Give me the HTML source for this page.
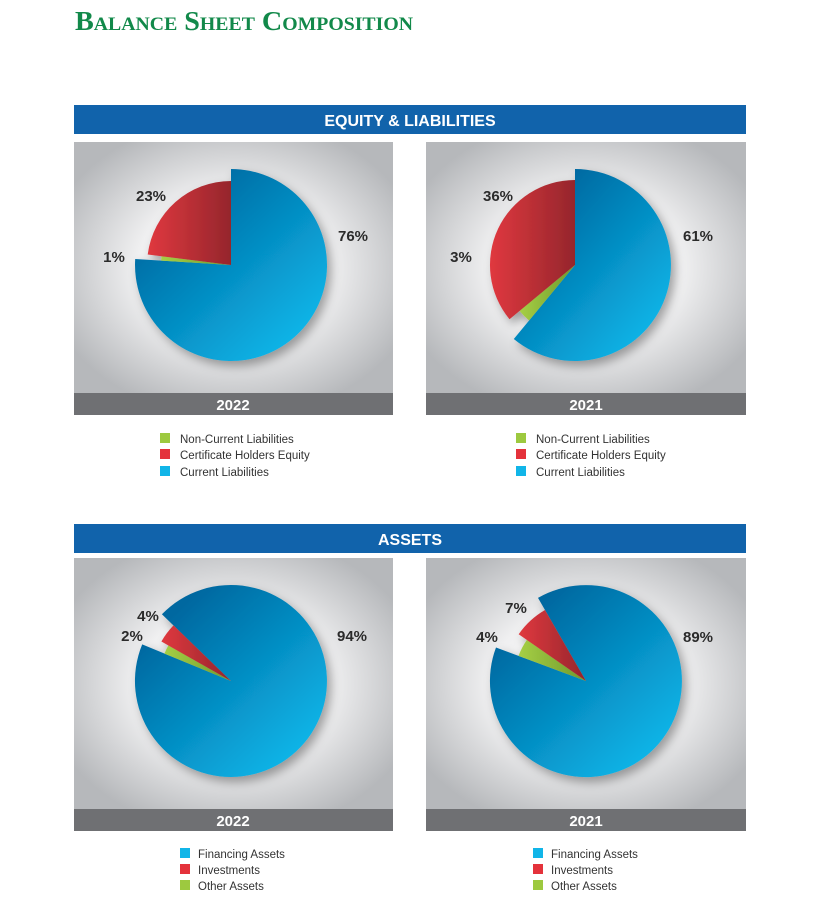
<!DOCTYPE html>
<html><head><meta charset="utf-8"><style>
html,body{margin:0;padding:0;background:#fff;}
svg{display:block;}
</style></head><body>
<svg width="821" height="909" viewBox="0 0 821 909" xmlns="http://www.w3.org/2000/svg" font-family="Liberation Sans, sans-serif">
<defs>
<radialGradient id="bg" cx="0.5" cy="0.5" r="0.6">
<stop offset="0" stop-color="#ffffff"/><stop offset="0.5" stop-color="#f0f0f1"/><stop offset="1" stop-color="#b6b8bb"/>
</radialGradient>
<linearGradient id="bl" x1="0.2" y1="0.15" x2="0.85" y2="0.85">
<stop offset="0" stop-color="#0068a0"/><stop offset="1" stop-color="#0bb3e6"/>
</linearGradient>
<linearGradient id="rd" x1="0" y1="0" x2="1" y2="0">
<stop offset="0" stop-color="#e0383f"/><stop offset="1" stop-color="#95262c"/>
</linearGradient>
<linearGradient id="gr" x1="0" y1="0" x2="1" y2="0">
<stop offset="0" stop-color="#a6cf45"/><stop offset="1" stop-color="#6f9a2c"/>
</linearGradient>
<filter id="sh" x="-20%" y="-20%" width="140%" height="140%">
<feDropShadow dx="4" dy="5" stdDeviation="5" flood-color="#000" flood-opacity="0.35"/>
</filter>
</defs>

<text x="75" y="30" font-family="Liberation Serif, serif" font-size="27" font-weight="bold" fill="#12894a" style="font-variant:small-caps" textLength="338" lengthAdjust="spacingAndGlyphs">Balance Sheet Composition</text>

<!-- Equity header -->
<rect x="74" y="105" width="672" height="29" fill="#1163ab"/>
<text x="410" y="126" text-anchor="middle" fill="#fff" font-weight="bold" font-size="16">EQUITY &amp; LIABILITIES</text>

<rect x="74" y="142" width="319" height="251" fill="url(#bg)"/>
<rect x="74" y="393" width="319" height="22" fill="#6f7073"/>
<text x="233" y="410" text-anchor="middle" fill="#fff" font-weight="bold" font-size="15">2022</text>
<rect x="426" y="142" width="320" height="251" fill="url(#bg)"/>
<rect x="426" y="393" width="320" height="22" fill="#6f7073"/>
<text x="586" y="410" text-anchor="middle" fill="#fff" font-weight="bold" font-size="15">2021</text>

<g filter="url(#sh)">
<path d="M231,265 L231,169 A96,96 0 1 1 135.2,259 Z" fill="url(#bl)"/>
<path d="M231,265 L161.1,260.6 A70,70 0 0 1 161.6,256.2 Z" fill="url(#gr)"/>
<path d="M231,265 L147.7,254.5 A84,84 0 0 1 231,181 Z" fill="url(#rd)"/>
</g>
<g filter="url(#sh)">
<path d="M575,265 L575,169 A96,96 0 1 1 513.8,339 Z" fill="url(#bl)"/>
<path d="M575,265 L529.1,320.5 A72,72 0 0 1 519.5,310.9 Z" fill="url(#gr)"/>
<path d="M575,265 L509.5,319.2 A85,85 0 0 1 575,180 Z" fill="url(#rd)"/>
</g>

<g font-weight="bold" font-size="15" fill="#2b2b2b" text-anchor="middle">
<text x="151" y="201">23%</text>
<text x="114" y="262">1%</text>
<text x="353" y="241">76%</text>
<text x="498" y="201">36%</text>
<text x="461" y="262">3%</text>
<text x="698" y="241">61%</text>
</g>

<g font-size="11.5" fill="#333">
<rect x="160" y="433" width="10" height="10" fill="#9dc93f"/><text x="180" y="443">Non-Current Liabilities</text>
<rect x="160" y="449" width="10" height="10" fill="#e4323b"/><text x="180" y="459">Certificate Holders Equity</text>
<rect x="160" y="466" width="10" height="10" fill="#11b5e8"/><text x="180" y="476">Current Liabilities</text>
<rect x="516" y="433" width="10" height="10" fill="#9dc93f"/><text x="536" y="443">Non-Current Liabilities</text>
<rect x="516" y="449" width="10" height="10" fill="#e4323b"/><text x="536" y="459">Certificate Holders Equity</text>
<rect x="516" y="466" width="10" height="10" fill="#11b5e8"/><text x="536" y="476">Current Liabilities</text>
</g>

<!-- Assets -->
<rect x="74" y="524" width="672" height="29" fill="#1163ab"/>
<text x="410" y="545" text-anchor="middle" fill="#fff" font-weight="bold" font-size="16">ASSETS</text>

<rect x="74" y="558" width="319" height="251" fill="url(#bg)"/>
<rect x="74" y="809" width="319" height="22" fill="#6f7073"/>
<text x="233" y="826" text-anchor="middle" fill="#fff" font-weight="bold" font-size="15">2022</text>
<rect x="426" y="558" width="320" height="251" fill="url(#bg)"/>
<rect x="426" y="809" width="320" height="22" fill="#6f7073"/>
<text x="586" y="826" text-anchor="middle" fill="#fff" font-weight="bold" font-size="15">2021</text>

<g filter="url(#sh)">
<path d="M231,681 L161.9,614.3 A96,96 0 1 1 142.2,644.4 Z" fill="url(#bl)"/>
<path d="M231,681 L164.4,653.6 A72,72 0 0 1 168.4,645.4 Z" fill="url(#gr)"/>
<path d="M231,681 L161.4,641.5 A80,80 0 0 1 173.5,625.4 Z" fill="url(#rd)"/>
</g>
<g filter="url(#sh)">
<path d="M586,681 L538,597.9 A96,96 0 1 1 496,647.5 Z" fill="url(#bl)"/>
<path d="M586,681 L518.5,655.9 A72,72 0 0 1 526.9,639.9 Z" fill="url(#gr)"/>
<path d="M586,681 L518.7,634.2 A82,82 0 0 1 545,610 Z" fill="url(#rd)"/>
</g>

<g font-weight="bold" font-size="15" fill="#2b2b2b" text-anchor="middle">
<text x="148" y="621">4%</text>
<text x="132" y="641">2%</text>
<text x="352" y="641">94%</text>
<text x="516" y="613">7%</text>
<text x="487" y="642">4%</text>
<text x="698" y="642">89%</text>
</g>

<g font-size="11.5" fill="#333">
<rect x="180" y="848" width="10" height="10" fill="#11b5e8"/><text x="198" y="858">Financing Assets</text>
<rect x="180" y="864" width="10" height="10" fill="#e4323b"/><text x="198" y="874">Investments</text>
<rect x="180" y="880" width="10" height="10" fill="#9dc93f"/><text x="198" y="890">Other Assets</text>
<rect x="533" y="848" width="10" height="10" fill="#11b5e8"/><text x="551" y="858">Financing Assets</text>
<rect x="533" y="864" width="10" height="10" fill="#e4323b"/><text x="551" y="874">Investments</text>
<rect x="533" y="880" width="10" height="10" fill="#9dc93f"/><text x="551" y="890">Other Assets</text>
</g>
</svg>
</body></html>
